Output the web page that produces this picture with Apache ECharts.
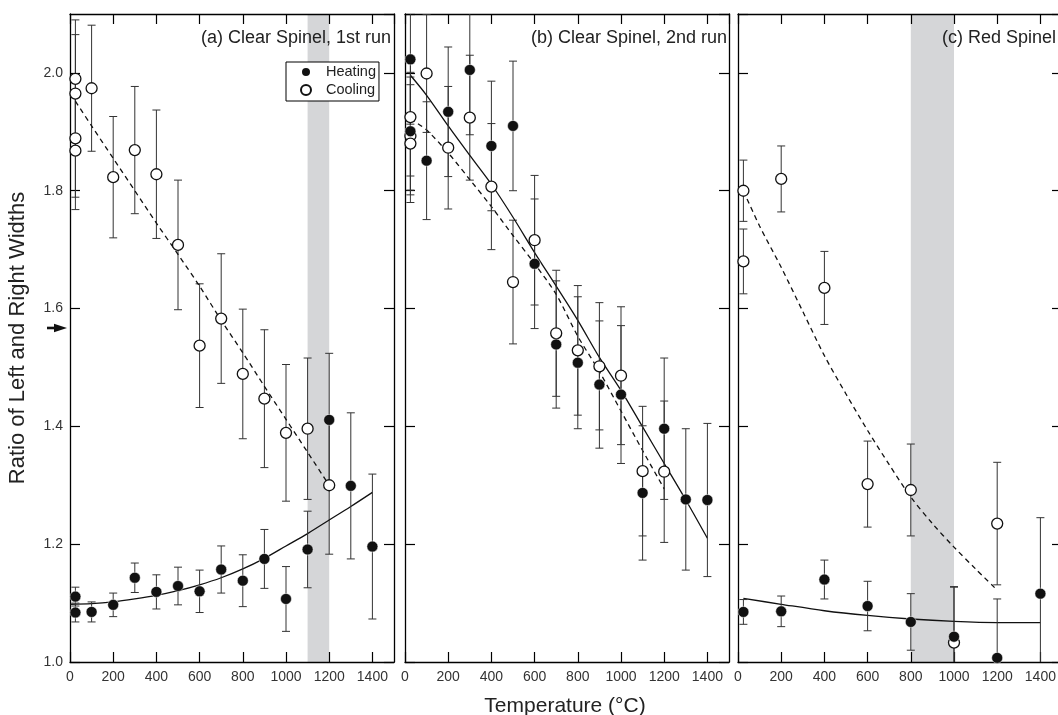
<!DOCTYPE html>
<html>
<head>
<meta charset="utf-8">
<script src="https://cdn.jsdelivr.net/npm/echarts@6/dist/echarts.min.js"></script>
<style>
html,body{margin:0;padding:0;background:#fff;}
#chart{width:1058px;height:715px;}
</style>
</head>
<body>
<div id="chart"></div>
<script>
// ---------- data ----------
const panelTitles = ['(a) Clear Spinel, 1st run', '(b) Clear Spinel, 2nd run', '(c) Red Spinel'];
const xTickLabels = [0, 200, 400, 600, 800, 1000, 1200, 1400];

// Panel (a)
const tempA_heat  = [25, 25, 100, 200, 300, 400, 500, 600, 700, 800, 900, 1000, 1100, 1200, 1300, 1400];
const ratioA_heat = [1.111, 1.084, 1.085, 1.097, 1.143, 1.119, 1.129, 1.120, 1.157, 1.138, 1.175, 1.107, 1.191, 1.411, 1.299, 1.196];
const errA_heat   = [0.016, 0.016, 0.017, 0.020, 0.025, 0.029, 0.032, 0.036, 0.040, 0.044, 0.050, 0.055, 0.065, 0.113, 0.124, 0.123];
const tempA_cool  = [25, 25, 25, 25, 100, 200, 300, 400, 500, 600, 700, 800, 900, 1000, 1100, 1200];
const ratioA_cool = [1.990, 1.965, 1.889, 1.868, 1.974, 1.823, 1.869, 1.828, 1.708, 1.537, 1.583, 1.489, 1.447, 1.389, 1.396, 1.300];
const errA_cool   = [0.100, 0.100, 0.100, 0.100, 0.107, 0.103, 0.108, 0.109, 0.110, 0.105, 0.110, 0.110, 0.117, 0.116, 0.120, 0.117];
const fitA_heatT  = [0, 100, 200, 300, 400, 500, 600, 700, 800, 900, 1000, 1100, 1200, 1300, 1400];
const fitA_heat   = [1.098, 1.099, 1.102, 1.107, 1.113, 1.121, 1.131, 1.143, 1.158, 1.176, 1.197, 1.218, 1.241, 1.264, 1.288];
const fitA_coolT  = [25, 100, 200, 300, 400, 500, 600, 700, 800, 900, 1000, 1100, 1200];
const fitA_cool   = [1.952, 1.910, 1.855, 1.800, 1.745, 1.692, 1.638, 1.580, 1.525, 1.468, 1.412, 1.356, 1.300];
const bandA       = [1100, 1200];

// Panel (b)
const tempB_heat  = [25, 25, 100, 200, 300, 400, 500, 600, 700, 800, 900, 1000, 1100, 1200, 1300, 1400];
const ratioB_heat = [2.023, 1.901, 1.851, 1.934, 2.005, 1.876, 1.910, 1.676, 1.539, 1.508, 1.471, 1.454, 1.287, 1.396, 1.276, 1.275];
const errB_heat   = [0.110, 0.100, 0.100, 0.110, 0.110, 0.110, 0.110, 0.110, 0.108, 0.112, 0.108, 0.117, 0.114, 0.120, 0.120, 0.130];
const tempB_cool  = [25, 25, 25, 100, 200, 300, 400, 500, 600, 700, 800, 900, 1000, 1100, 1200];
const ratioB_cool = [1.925, 1.893, 1.880, 1.999, 1.873, 1.924, 1.807, 1.645, 1.716, 1.558, 1.529, 1.502, 1.486, 1.324, 1.323];
const errB_cool   = [0.100, 0.100, 0.100, 0.100, 0.104, 0.106, 0.107, 0.105, 0.110, 0.107, 0.110, 0.108, 0.117, 0.110, 0.120];
const fitB_heatT  = [25, 100, 200, 300, 400, 500, 600, 700, 800, 900, 1000, 1100, 1200, 1300, 1400];
const fitB_heat   = [1.996, 1.962, 1.910, 1.860, 1.811, 1.755, 1.695, 1.638, 1.580, 1.517, 1.461, 1.399, 1.337, 1.275, 1.210];
const fitB_coolT  = [25, 100, 200, 300, 400, 500, 600, 700, 800, 900, 1000, 1100, 1200];
const fitB_cool   = [1.922, 1.903, 1.864, 1.819, 1.773, 1.724, 1.676, 1.624, 1.553, 1.493, 1.426, 1.359, 1.294];

// Panel (c)
const tempC_heat  = [25, 200, 400, 600, 800, 1000, 1200, 1400];
const ratioC_heat = [1.085, 1.086, 1.140, 1.095, 1.068, 1.043, 1.007, 1.116];
const errC_heat   = [0.021, 0.026, 0.033, 0.042, 0.048, 0.084, 0.100, 0.129];
const tempC_cool  = [25, 25, 200, 400, 600, 800, 1000, 1200];
const ratioC_cool = [1.800, 1.680, 1.820, 1.635, 1.302, 1.292, 1.033, 1.235];
const errC_cool   = [0.052, 0.055, 0.056, 0.062, 0.073, 0.078, 0.095, 0.104];
const fitC_heatT  = [25, 200, 400, 600, 800, 1000, 1200, 1400];
const fitC_heat   = [1.108, 1.098, 1.087, 1.079, 1.073, 1.069, 1.067, 1.067];
const fitC_coolT  = [25, 100, 200, 300, 400, 500, 600, 700, 800, 900, 1000, 1100, 1200];
const fitC_cool   = [1.800, 1.740, 1.670, 1.595, 1.520, 1.455, 1.393, 1.335, 1.280, 1.235, 1.195, 1.158, 1.122];
const bandC       = [800, 1000];

const arrowRatio = 1.567;

// ---------- chart ----------
const FONT = 'Liberation Sans, Arial, Helvetica, sans-serif';
const X_MIN = 0, X_MAX = 1500, Y_MIN = 1.0, Y_MAX = 2.1;

const panels = [
  {heatT: tempA_heat, heat: ratioA_heat, heatE: errA_heat, coolT: tempA_cool, cool: ratioA_cool, coolE: errA_cool,
   fHT: fitA_heatT, fH: fitA_heat, fCT: fitA_coolT, fC: fitA_cool, band: bandA},
  {heatT: tempB_heat, heat: ratioB_heat, heatE: errB_heat, coolT: tempB_cool, cool: ratioB_cool, coolE: errB_cool,
   fHT: fitB_heatT, fH: fitB_heat, fCT: fitB_coolT, fC: fitB_cool, band: null},
  {heatT: tempC_heat, heat: ratioC_heat, heatE: errC_heat, coolT: tempC_cool, cool: ratioC_cool, coolE: errC_cool,
   fHT: fitC_heatT, fH: fitC_heat, fCT: fitC_coolT, fC: fitC_cool, band: bandC}
];

const gridLefts = [70, 405, 738];
const grids = gridLefts.map(l => ({left: l, top: 14, width: 324, height: 648, containLabel: false, outerBoundsMode: 'none'}));

const zip = (a, b) => a.map((v, i) => [v, b[i]]);
const zip3 = (a, b, c) => a.map((v, i) => [v, b[i], c[i]]);

const axisLine = {show: true, onZero: false, lineStyle: {color: '#000', width: 1.3}};
const axisTick = {show: true, inside: true, length: 10, lineStyle: {color: '#000', width: 1.2}};
const AXIS_Z = 2;

const xAxes = [], yAxes = [];
grids.forEach((g, i) => {
  xAxes.push({gridIndex: i, type: 'value', min: X_MIN, max: X_MAX, interval: 200, position: 'bottom', z: AXIS_Z,
    axisLine, axisTick, splitLine: {show: false},
    axisLabel: {show: true, margin: 8, fontSize: 14, color: '#333', fontFamily: FONT, showMaxLabel: false,
      formatter: v => (xTickLabels.indexOf(v) >= 0 ? String(v) : '')}});
  xAxes.push({gridIndex: i, type: 'value', min: X_MIN, max: X_MAX, interval: 200, position: 'top', z: AXIS_Z,
    axisLine, axisTick, splitLine: {show: false}, axisLabel: {show: false}});
  yAxes.push({gridIndex: i, type: 'value', min: Y_MIN, max: Y_MAX, interval: 0.2, position: 'left', z: AXIS_Z,
    axisLine, axisTick, splitLine: {show: false},
    axisLabel: {show: i === 0, margin: 7, fontSize: 14, color: '#333', fontFamily: FONT, showMaxLabel: false,
      formatter: v => v.toFixed(1)}});
  yAxes.push({gridIndex: i, type: 'value', min: Y_MIN, max: Y_MAX, interval: 0.2, position: 'right', z: AXIS_Z,
    axisLine, axisTick, splitLine: {show: false}, axisLabel: {show: false}});
});

function errRender(params, api) {
  const x = api.value(0), y = api.value(1), e = api.value(2);
  const hiV = Math.min(y + e, Y_MAX), loV = Math.max(y - e, Y_MIN);
  const p1 = api.coord([x, hiV]), p2 = api.coord([x, loV]);
  const st = {stroke: '#333', lineWidth: 1};
  const ch = [{type: 'line', shape: {x1: p1[0], y1: p1[1], x2: p2[0], y2: p2[1]}, style: st}];
  if (y + e < Y_MAX) ch.push({type: 'line', shape: {x1: p1[0] - 4, y1: p1[1], x2: p1[0] + 4, y2: p1[1]}, style: st});
  if (y - e > Y_MIN) ch.push({type: 'line', shape: {x1: p2[0] - 4, y1: p2[1], x2: p2[0] + 4, y2: p2[1]}, style: st});
  return {type: 'group', children: ch};
}

const series = [];
panels.forEach((p, i) => {
  const ax = {xAxisIndex: 2 * i, yAxisIndex: 2 * i};
  if (p.band) {
    // invisible carrier series for the grey band, kept below the axes
    series.push(Object.assign({
      type: 'line', name: 'band' + i, data: zip(p.fCT, p.fC), symbol: 'none', z: 1, silent: true,
      lineStyle: {opacity: 0},
      markArea: {silent: true, z: 1, itemStyle: {color: '#d5d6d8'}, data: [[{xAxis: p.band[0]}, {xAxis: p.band[1]}]]}
    }, ax));
  }
  series.push(Object.assign({
    type: 'line', name: 'coolfit' + i, data: zip(p.fCT, p.fC), smooth: 0.3, symbol: 'none', z: 3,
    lineStyle: {color: '#111', width: 1.3, type: [5, 4]}, silent: true
  }, ax));
  series.push(Object.assign({
    type: 'line', name: 'heatfit' + i, data: zip(p.fHT, p.fH), smooth: 0.3, symbol: 'none', z: 3,
    lineStyle: {color: '#111', width: 1.3}, silent: true
  }, ax));
  series.push(Object.assign({type: 'custom', name: 'errC' + i, renderItem: errRender, data: zip3(p.coolT, p.cool, p.coolE),
    encode: {x: 0, y: 1}, z: 3, silent: true, clip: false}, ax));
  series.push(Object.assign({type: 'scatter', name: 'Cooling', data: zip(p.coolT, p.cool), symbol: 'circle', symbolSize: 11, z: 4,
    itemStyle: {color: '#fff', borderColor: '#111', borderWidth: 1.3, opacity: 1}}, ax));
  series.push(Object.assign({type: 'custom', name: 'errH' + i, renderItem: errRender, data: zip3(p.heatT, p.heat, p.heatE),
    encode: {x: 0, y: 1}, z: 4, silent: true, clip: false}, ax));
  series.push(Object.assign({type: 'scatter', name: 'Heating', data: zip(p.heatT, p.heat), symbol: 'circle', symbolSize: 11, z: 5,
    itemStyle: {color: '#111', borderColor: '#fff', borderWidth: 0.5, opacity: 1}}, ax));
});

series.push({
  type: 'custom', name: 'arrow', xAxisIndex: 0, yAxisIndex: 0, clip: false, silent: true, z: 6,
  data: [[0, arrowRatio]],
  renderItem: (params, api) => {
    const c = api.coord([api.value(0), api.value(1)]);
    return {type: 'group', children: [
      {type: 'rect', shape: {x: c[0] - 23, y: c[1] - 1.3, width: 10, height: 2.6}, style: {fill: '#111'}},
      {type: 'polygon', shape: {points: [[c[0] - 3, c[1]], [c[0] - 16, c[1] - 4.3], [c[0] - 16, c[1] + 4.3]]}, style: {fill: '#111'}}
    ]};
  }
});

const chart = echarts.init(document.getElementById('chart'), null, {renderer: 'canvas'});
chart.setOption({
  animation: false,
  backgroundColor: '#fff',
  textStyle: {fontFamily: FONT},
  grid: grids,
  xAxis: xAxes,
  yAxis: yAxes,
  title: [
    {text: panelTitles[0], right: 667, top: 29, padding: 0, textStyle: {fontSize: 18, fontWeight: 'normal', color: '#222', fontFamily: FONT}},
    {text: panelTitles[1], right: 331, top: 29, padding: 0, textStyle: {fontSize: 18, fontWeight: 'normal', color: '#222', fontFamily: FONT}},
    {text: panelTitles[2], right: 2, top: 29, padding: 0, textStyle: {fontSize: 18, fontWeight: 'normal', color: '#222', fontFamily: FONT}}
  ],
  legend: {
    data: ['Heating', 'Cooling'], orient: 'vertical', left: 286, top: 62, z: 20,
    backgroundColor: '#fff', borderColor: '#000', borderWidth: 1, borderRadius: 0,
    padding: [2, 3, 3, 14], itemGap: 2, itemWidth: 30, itemHeight: 10,
    textStyle: {fontSize: 14.5, color: '#222', fontFamily: FONT, lineHeight: 16},
    selectedMode: false
  },
  graphic: [
    {type: 'text', x: 18, y: 338, rotation: Math.PI / 2, z: 100,
      style: {text: 'Ratio of Left and Right Widths', font: '22px ' + FONT, fill: '#222', textAlign: 'center', textVerticalAlign: 'middle'}},
    {type: 'text', x: 565, y: 706, z: 100,
      style: {text: 'Temperature (°C)', font: '21px ' + FONT, fill: '#222', textAlign: 'center', textVerticalAlign: 'middle'}}
  ],
  series: series
});
</script>
</body>
</html>
